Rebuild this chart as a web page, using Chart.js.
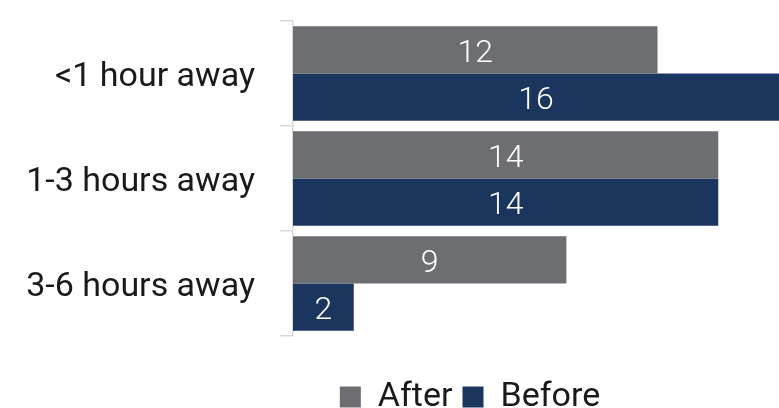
<!DOCTYPE html>
<html>
<head>
<meta charset="utf-8">
<script src="https://cdn.jsdelivr.net/npm/chart.js@4"></script>
<style>
  html, body { margin: 0; padding: 0; background: #ffffff; }
  #wrap { width: 779px; height: 408px; position: relative; }
</style>
</head>
<body>
<div id="wrap"><canvas id="c"></canvas></div>
<script>
const categories = ["<1 hour away", "1-3 hours away", "3-6 hours away"];
const afterValues = [12, 14, 9];
const beforeValues = [16, 14, 2];
const seriesNames = ["After", "Before"];

const FONT = "Roboto, 'Liberation Sans', sans-serif";

const barLabels = {
  id: 'barLabels',
  afterDatasetsDraw(chart) {
    const ctx = chart.ctx;
    ctx.save();
    ctx.fillStyle = '#ffffff';
    ctx.font = '300 32px ' + FONT;
    ctx.textAlign = 'center';
    ctx.textBaseline = 'middle';
    chart.data.datasets.forEach((ds, di) => {
      const meta = chart.getDatasetMeta(di);
      meta.data.forEach((bar, i) => {
        const cx = (bar.x + bar.base) / 2;
        ctx.fillText(String(ds.data[i]), cx, bar.y + 4);
      });
    });
    ctx.restore();
  }
};

// Place the legend block: centered around x=470, items around y=394
const legendPlace = {
  id: 'legendPlace',
  afterLayout(chart) {
    const lg = chart.legend;
    if (!lg) return;
    const h = lg.bottom - lg.top;
    lg.left = 161;
    lg.right = 779;
    lg.top = 370;
    lg.bottom = 370 + h;
  }
};

new Chart(document.getElementById('c'), {
  type: 'bar',
  data: {
    labels: categories,
    datasets: [
      { label: seriesNames[0], data: afterValues, backgroundColor: '#6d6e71',
        categoryPercentage: 0.9, barPercentage: 1.0 },
      { label: seriesNames[1], data: beforeValues, backgroundColor: '#1a355e',
        categoryPercentage: 0.9, barPercentage: 1.0 }
    ]
  },
  options: {
    indexAxis: 'y',
    responsive: true,
    maintainAspectRatio: false,
    animation: false,
    layout: { padding: { top: 21, right: 0, left: 0, bottom: 18 } },
    plugins: {
      tooltip: { enabled: false },
      legend: {
        position: 'bottom',
        labels: {
          font: { family: FONT, size: 34, weight: '400' },
          color: '#1a1a1a',
          boxWidth: 21,
          boxHeight: 21,
          padding: 10
        }
      }
    },
    scales: {
      x: {
        display: false,
        min: 0,
        max: 16
      },
      y: {
        afterFit(scale) {
          scale.width = 293;
          scale.paddingTop = 0;
          scale.paddingBottom = 0;
        },
        border: { display: true, color: '#d9d9d9', width: 1.5 },
        grid: { drawOnChartArea: false, color: '#d9d9d9', tickLength: 13, lineWidth: 1.5 },
        ticks: {
          font: { family: FONT, size: 34, weight: '400' },
          color: '#1a1a1a',
          padding: 25,
          labelOffset: 4
        }
      }
    }
  },
  plugins: [barLabels, legendPlace]
});
</script>
</body>
</html>
